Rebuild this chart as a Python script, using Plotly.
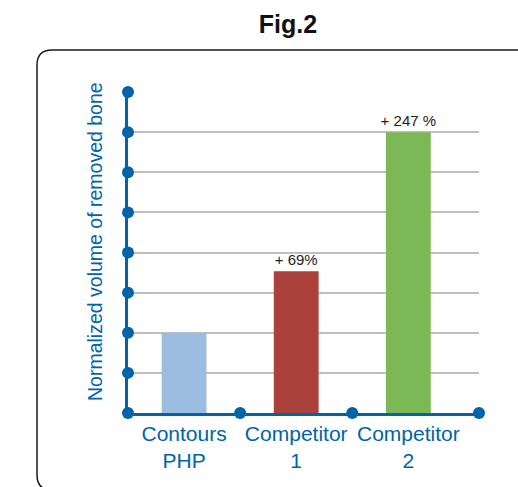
import plotly.graph_objects as go

categories = ["Contours<br>PHP", "Competitor<br>1", "Competitor<br>2"]
values = [2.0, 3.53, 7.0]
labels = ["", "+ 69%", "+ 247 %"]
bar_colors = ["#9DBDE0", "#AA413B", "#7CB856"]
y_ticks = [0, 1, 2, 3, 4, 5, 6, 7, 8]
x_dots = [0.5, 1.5, 2.63]
y_title = "Normalized volume of removed bone"

BLUE = "#0064AA"
W, H = 518, 487
ML, MR, MT, MB = 128, 39, 92, 74
XR = [-0.5, 2.63]
YR = [0, 8]
FONT = "Liberation Sans, Arial, sans-serif"

xpos = list(range(len(categories)))

fig = go.Figure()
fig.add_trace(go.Bar(
    x=xpos, y=values, width=0.4, marker=dict(color=bar_colors, line=dict(width=0)),
    text=labels, textposition="outside", cliponaxis=False, constraintext="none",
    textfont=dict(family=FONT, size=15, color="#222222"),
    hoverinfo="skip",
))
# dots on y axis
fig.add_trace(go.Scatter(
    x=[XR[0]] * len(y_ticks), y=y_ticks, mode="markers", cliponaxis=False,
    marker=dict(size=12, color=BLUE), hoverinfo="skip",
))
# dots on x axis
fig.add_trace(go.Scatter(
    x=x_dots, y=[0] * len(x_dots), mode="markers", cliponaxis=False,
    marker=dict(size=12, color=BLUE), hoverinfo="skip",
))

pw = W - ML - MR
ph = H - MT - MB
def px(x):
    return (x - ML) / pw
def py(y):
    return (H - MB - y) / ph

r = 15
x0, y0, x1, y1 = 37, 50, 545, 490
path = (f"M {px(x0+r)},{py(y0)} L {px(x1-r)},{py(y0)} "
        f"Q {px(x1)},{py(y0)} {px(x1)},{py(y0+r)} "
        f"L {px(x1)},{py(y1-r)} Q {px(x1)},{py(y1)} {px(x1-r)},{py(y1)} "
        f"L {px(x0+r)},{py(y1)} Q {px(x0)},{py(y1)} {px(x0)},{py(y1-r)} "
        f"L {px(x0)},{py(y0+r)} Q {px(x0)},{py(y0)} {px(x0+r)},{py(y0)} Z")
fig.add_shape(type="path", path=path, xref="paper", yref="paper",
              line=dict(color="#1a1a1a", width=1.5), layer="below")

fig.add_annotation(text=y_title, xref="paper", yref="paper", x=px(95), y=py(242),
                   xanchor="center", yanchor="middle", textangle=-90, showarrow=False,
                   font=dict(family=FONT, size=19.5, color=BLUE))

fig.update_layout(
    width=W, height=H,
    margin=dict(l=ML, r=MR, t=MT, b=MB, autoexpand=False),
    paper_bgcolor="white", plot_bgcolor="white",
    showlegend=False,
    title=dict(text="<b>Fig.2</b>", x=288 / W, xanchor="center", y=1 - 33 / H, yanchor="bottom",
               automargin=False,
               font=dict(family=FONT, size=25, color="#111111")),
    xaxis=dict(range=XR, tickvals=xpos, ticktext=categories, showgrid=False, zeroline=False,
               showline=True, linecolor=BLUE, linewidth=2.5, ticks="", tickangle=0, automargin=False,
               tickfont=dict(family=FONT, size=21, color=BLUE)),
    yaxis=dict(range=YR, dtick=1, showticklabels=False, ticks="", showgrid=True, automargin=False,
               gridcolor="#BFBFBF", gridwidth=1.5, zeroline=False,
               showline=True, linecolor=BLUE, linewidth=2.5),
)

fig.write_html("out.html")
